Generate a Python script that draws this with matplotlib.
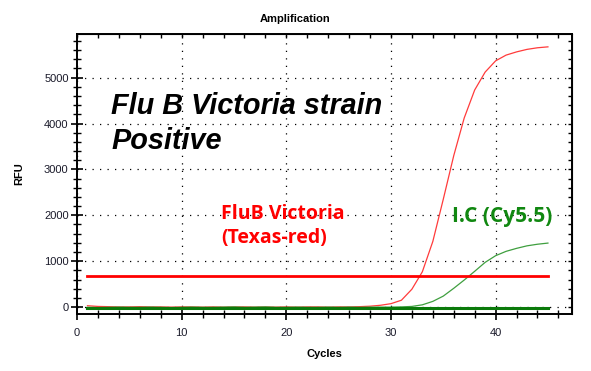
import matplotlib
matplotlib.use("Agg")
import matplotlib.pyplot as plt
from matplotlib.ticker import MultipleLocator

# Data (RFU per cycle)
cycles = list(range(1, 46))
flub_rfu = [30, 15, 10, 5, 5, 10, 5, 5, 0, 5, 5, 0, 5, 0, 5, 5, 0, 5, 0, 5,
            0, 5, 5, 0, 5, 5, 10, 20, 40, 75, 150, 390, 770, 1430, 2350, 3300,
            4120, 4730, 5120, 5365, 5490, 5560, 5615, 5650, 5670]
ic_rfu = [-5, -10, -5, 0, -5, -5, 0, -5, -10, -5, 0, -5, -5, 0, 5, -5, 0, 5, -5, -5,
          0, -5, -5, 0, -5, 0, -5, 0, 0, 0, 5, 15, 50, 125, 240, 410,
          590, 780, 975, 1120, 1215, 1280, 1335, 1370, 1395]
flub_threshold = 670
ic_threshold = -18
thr_start, thr_end = 1, 45

W, H = 591, 371
fig = plt.figure(figsize=(W / 100, H / 100), dpi=100)
ax = fig.add_axes([77 / W, 1 - 314 / H, (572 - 77) / W, (314 - 34) / H])

ax.plot(cycles, flub_rfu, color="#ff3b3b", lw=0.9)
ax.plot(cycles, ic_rfu, color="#3f9f3f", lw=0.9)
ax.plot([thr_start, thr_end], [flub_threshold, flub_threshold], color="#ff0000", lw=2.0)
ax.plot([thr_start, thr_end], [ic_threshold, ic_threshold], color="#0a7a0a", lw=2.2)

ax.set_xlim(0, 47.3)
ax.set_ylim(-150, 5950)
ax.xaxis.set_major_locator(MultipleLocator(10))
ax.xaxis.set_minor_locator(MultipleLocator(2))
ax.yaxis.set_major_locator(MultipleLocator(1000))
ax.yaxis.set_minor_locator(MultipleLocator(200))
ax.grid(which="major", color="black", linestyle=(0, (1, 5)), linewidth=0.9)

for s in ax.spines.values():
    s.set_linewidth(1.4)
tick_font = dict(labelsize=8, labelcolor="#1a1a2a")
ax.tick_params(which="major", direction="inout", length=8, width=1.2, pad=2, **tick_font)
ax.tick_params(axis="x", which="major", pad=6)
ax.tick_params(which="minor", direction="inout", length=6, width=1.0)
for tl in ax.get_xticklabels() + ax.get_yticklabels():
    tl.set_fontfamily("Liberation Sans")

top = ax.secondary_xaxis("top")
top.xaxis.set_major_locator(MultipleLocator(10))
top.xaxis.set_minor_locator(MultipleLocator(2))
top.tick_params(which="both", direction="in", length=3, width=1.0, labeltop=False)
right = ax.secondary_yaxis("right")
right.yaxis.set_major_locator(MultipleLocator(1000))
right.yaxis.set_minor_locator(MultipleLocator(200))
right.tick_params(which="both", direction="in", length=3, width=1.0, labelright=False)

ax.set_xlabel("Cycles", fontsize=8, fontweight="bold", family="Liberation Sans", labelpad=8)
ax.set_ylabel("RFU", fontsize=8, fontweight="bold", family="Liberation Sans", labelpad=14)
fig.text(0.5, 1 - 19 / H, "Amplification", ha="center", va="center",
         fontsize=8, fontweight="bold", family="Liberation Sans")


def px(x, y):
    return x / W, 1 - y / H


fig.text(*px(111, 114), "Flu B Victoria strain", fontsize=20.8, fontweight="bold",
         style="italic", family="Liberation Sans", va="baseline")
fig.text(*px(111, 149), "Positive", fontsize=20.8, fontweight="bold",
         style="italic", family="Liberation Sans", va="baseline")
fig.text(*px(221, 219), "FluB Victoria", fontsize=14, fontweight="bold",
         color="#ff0000", family="Open Sans", va="baseline")
fig.text(*px(221, 243), "(Texas-red)", fontsize=14, fontweight="bold",
         color="#ff0000", family="Open Sans", va="baseline")
fig.text(*px(452, 222), "I.C (Cy5.5)", fontsize=15, fontweight="bold",
         color="#118811", family="Open Sans", va="baseline")

fig.savefig("out.png", dpi=100)
